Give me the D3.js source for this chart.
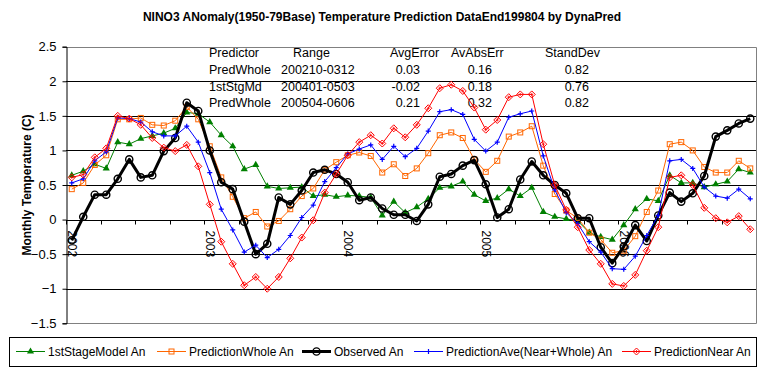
<!DOCTYPE html>
<html><head><meta charset="utf-8">
<script src="https://cdn.jsdelivr.net/npm/d3@7"></script>
<style>body{margin:0;background:#fff}svg{display:block;font-family:"Liberation Sans",Arial,sans-serif}</style>
</head><body><svg id="c" width="762" height="378"></svg>
<script>
// ---- data ----
const years = [2002, 2003, 2004, 2005, 2006];
const monthNames = ["01","02","03","04","05","06","07","08","09","10","11","12"];
const categories = years.flatMap(y => monthNames.map(m => y + "-" + m));
const yearLabels = ["2002", "2003", "2004", "2005", "2006"];
const yTicks = [2.5, 2, 1.5, 1, 0.5, 0, -0.5, -1, -1.5];

const stage1 = [0.64,0.70,0.80,0.74,1.12,1.09,1.17,1.21,1.25,1.32, 1.55,1.53,1.41,1.22,1.06,0.73,0.79,0.48,0.45,0.46, 0.47,0.34,0.36,0.33,0.35,0.34,0.32,0.06,0.26,0.10, 0.18,0.30,0.46,0.48,0.55,0.36,0.27,0.31,0.44,0.34, 0.46,0.11,0.04,0.01,-0.02,-0.19,-0.25,-0.29,-0.08,0.15, 0.30,0.27,0.64,0.53,0.53,0.47,0.51,0.55,0.73,0.68];
const whole = [0.44,0.53,0.79,0.93,1.45,1.45,1.47,1.37,1.36,1.43, 1.63,1.45,1.06,0.61,0.33,0.02,0.11,-0.10,-0.02,0.15, 0.34,0.45,0.72,0.83,0.93,0.97,0.92,0.68,0.80,0.63, 0.74,0.96,1.22,1.26,1.18,0.87,0.69,0.85,1.20,1.26, 1.35,0.78,0.37,0.13,0.02,-0.19,-0.29,-0.48,-0.45,-0.24, 0.11,0.42,1.09,1.12,1.00,0.76,0.68,0.68,0.85,0.74];
const observed = [-0.30,0.04,0.36,0.36,0.59,0.87,0.61,0.64,0.99,1.18, 1.69,1.57,1.00,0.54,0.44,-0.03,-0.50,-0.35,0.32,0.22, 0.42,0.68,0.72,0.66,0.54,0.28,0.32,0.16,0.07,0.07, -0.02,0.22,0.62,0.66,0.78,0.86,0.51,0.03,0.15,0.58, 0.84,0.64,0.50,0.38,0.02,0.02,-0.40,-0.63,-0.39,-0.08, -0.31,0.06,0.39,0.26,0.38,0.63,1.20,1.29,1.39,1.46];
const ave = [0.53,0.59,0.85,0.98,1.47,1.46,1.41,1.27,1.21,1.21, 1.35,1.12,0.68,0.15,-0.15,-0.47,-0.37,-0.55,-0.43,-0.23, 0.03,0.21,0.55,0.75,0.95,1.02,1.08,0.87,1.06,0.91, 1.03,1.28,1.56,1.59,1.52,1.16,0.99,1.12,1.48,1.53, 1.57,0.92,0.43,0.10,-0.06,-0.32,-0.47,-0.71,-0.72,-0.53, -0.23,0.06,0.85,0.87,0.74,0.47,0.34,0.31,0.44,0.30];
const near = [0.61,0.65,0.90,1.03,1.50,1.46,1.37,1.18,1.04,0.99, 1.08,0.77,0.22,-0.32,-0.64,-0.95,-0.83,-1.00,-0.83,-0.56, -0.26,-0.01,0.39,0.66,0.93,1.12,1.22,1.10,1.32,1.19, 1.37,1.61,1.90,1.95,1.86,1.62,1.30,1.44,1.77,1.81, 1.81,1.09,0.50,0.14,-0.11,-0.44,-0.64,-0.93,-0.96,-0.80, -0.45,-0.11,0.61,0.64,0.50,0.17,0.02,-0.04,0.05,-0.14];

const seriesNames = ["1stStageModel An", "PredictionWhole An", "Observed An", "PredictionAve(Near+Whole) An", "PredictionNear An"];
const statHeader = ["Predictor", "Range", "AvgError", "AvAbsErr", "StandDev"];
const statRows = [
  ["PredWhole", "200210-0312", "0.03", "0.16", "0.82"],
  ["1stStgMd", "200401-0503", "-0.02", "0.18", "0.76"],
  ["PredWhole", "200504-0606", "0.21", "0.32", "0.82"]
];

// ---- chart ----
const svg = d3.select("#c");
const L = 66, R = 756, T = 46.7, B = 323.3;
const x = d3.scaleBand().domain(categories).range([L, R]).padding(0);
const y = d3.scaleLinear().domain([-1.5, 2.5]).range([B, T]);
const cx = c => x(c) + x.bandwidth() / 2;

svg.append("text").attr("x", 382).attr("y", 21).attr("text-anchor", "middle")
  .attr("font-size", 12).attr("font-weight", "bold").text("NINO3 ANomaly(1950-79Base) Temperature Prediction DataEnd199804 by DynaPred");

// gridlines
svg.append("g").selectAll("line").data(yTicks.filter(v => v < 2.5 && v > -1.5)).join("line")
  .attr("x1", L).attr("x2", R).attr("y1", d => Math.round(y(d)) + 0.5).attr("y2", d => Math.round(y(d)) + 0.5)
  .attr("stroke", "#000").attr("stroke-width", 1);
// plot border (gray)
svg.append("path").attr("d", `M${L},${Math.round(T)+0.5}H${R+0.5}V${Math.round(B)+0.5}H${L}`)
  .attr("fill", "none").attr("stroke", "#808080");

// y axis
const yAxis = d3.axisLeft(y).tickValues(yTicks).tickSize(4).tickPadding(6).tickFormat(d3.format("~g"));
const gy = svg.append("g").attr("transform", `translate(${L + 0.5},0)`).call(yAxis);
gy.select(".domain").attr("stroke", "#000");
gy.selectAll(".tick line").attr("stroke", "#000");
gy.selectAll(".tick text").attr("font-size", 13).attr("font-family", "Liberation Sans, Arial").attr("fill", "#000");

svg.append("text").attr("transform", `translate(31,${(T + B) / 2}) rotate(-90)`).attr("text-anchor", "middle")
  .attr("font-size", 12).attr("font-weight", "bold").text("Monthly Temperature (C)");

// x axis at 0
const y0 = Math.round(y(0)) + 0.5;
const xAxis = d3.axisBottom(x).tickValues(categories.filter((c, i) => i % 3 === 0)).tickSize(4).tickFormat("");
const gx = svg.append("g").attr("transform", `translate(0,${y0})`).call(xAxis);
gx.selectAll(".tick").attr("transform", d => `translate(${Math.round(x(d)) + 0.5},0)`);
gx.select(".domain").attr("d", `M${L},0H${R}`).attr("stroke", "#000");
gx.selectAll(".tick line").attr("stroke", "#000");
svg.append("g").selectAll("text").data(yearLabels).join("text")
  .attr("transform", (d, i) => `translate(${cx(categories[i * 12])},${y0 + 10}) rotate(90)`)
  .attr("dy", "0.35em").attr("font-size", 12).text(d => d);

// stats text
const colX = [209, 293, 390, 451, 545];
const hdr = svg.append("g").attr("font-size", 12.5);
hdr.selectAll("text").data(statHeader).join("text").attr("x", (d, i) => colX[i]).attr("y", 57).text(d => d);
const valX = [209, 281, 420, 492, 589];
statRows.forEach((row, r) => {
  hdr.append("g").selectAll("text").data(row).join("text")
    .attr("x", (d, i) => valX[i]).attr("y", 74 + r * 16.7)
    .attr("text-anchor", (d, i) => i >= 2 ? "end" : "start").text(d => d);
});

// series
const colors = ["#008000", "#FF6600", "#000000", "#0000FF", "#FF0000"];
const dataSets = [stage1, whole, observed, ave, near];
const widths = [1, 1, 3, 1, 1];
const line = d3.line().x((d, i) => cx(categories[i])).y(d => y(d));

function marker(g, k, px, py) {
  const c = colors[k];
  if (k === 0) g.append("path").attr("d", d3.symbol(d3.symbolTriangle, 22)()).attr("transform", `translate(${px},${py})`).attr("fill", c);
  else if (k === 1) g.append("rect").attr("x", px - 2.5).attr("y", py - 2.5).attr("width", 5).attr("height", 5).attr("fill", "none").attr("stroke", c);
  else if (k === 2) g.append("circle").attr("cx", px).attr("cy", py).attr("r", 3.6).attr("fill", "none").attr("stroke", c).attr("stroke-width", 1.4);
  else if (k === 3) g.append("path").attr("d", `M${px-2.5},${py}H${px+2.5}M${px},${py-2.5}V${py+2.5}`).attr("stroke", c).attr("stroke-width", 1.2);
  else {
    g.append("path").attr("d", `M${px},${py-3.5}L${px+3.5},${py}L${px},${py+3.5}L${px-3.5},${py}Z`).attr("fill", "none").attr("stroke", c);
    g.append("path").attr("d", `M${px-1.5},${py}H${px+1.5}M${px},${py-1.5}V${py+1.5}`).attr("stroke", c).attr("stroke-width", 0.8);
  }
}

dataSets.forEach((ds, k) => {
  const g = svg.append("g");
  g.append("path").datum(ds).attr("d", line).attr("fill", "none").attr("stroke", colors[k])
    .attr("stroke-width", widths[k]).attr("stroke-linejoin", "round");
  ds.forEach((v, i) => marker(g, k, cx(categories[i]), y(v)));
});

// legend
const lg = svg.append("g");
lg.append("rect").attr("x", 9.5).attr("y", 337.5).attr("width", 747).attr("height", 29).attr("fill", "#fff").attr("stroke", "#000");
const legX = [16, 157, 302, 414, 622];
seriesNames.forEach((n, k) => {
  const g = lg.append("g");
  g.append("line").attr("x1", legX[k]).attr("x2", legX[k] + 29).attr("y1", 351.5).attr("y2", 351.5)
    .attr("stroke", colors[k]).attr("stroke-width", widths[k]);
  marker(g, k, legX[k] + 14.5, 351.5);
  g.append("text").attr("x", legX[k] + 32).attr("y", 356).attr("font-size", 12).text(n);
});
</script></body></html>
